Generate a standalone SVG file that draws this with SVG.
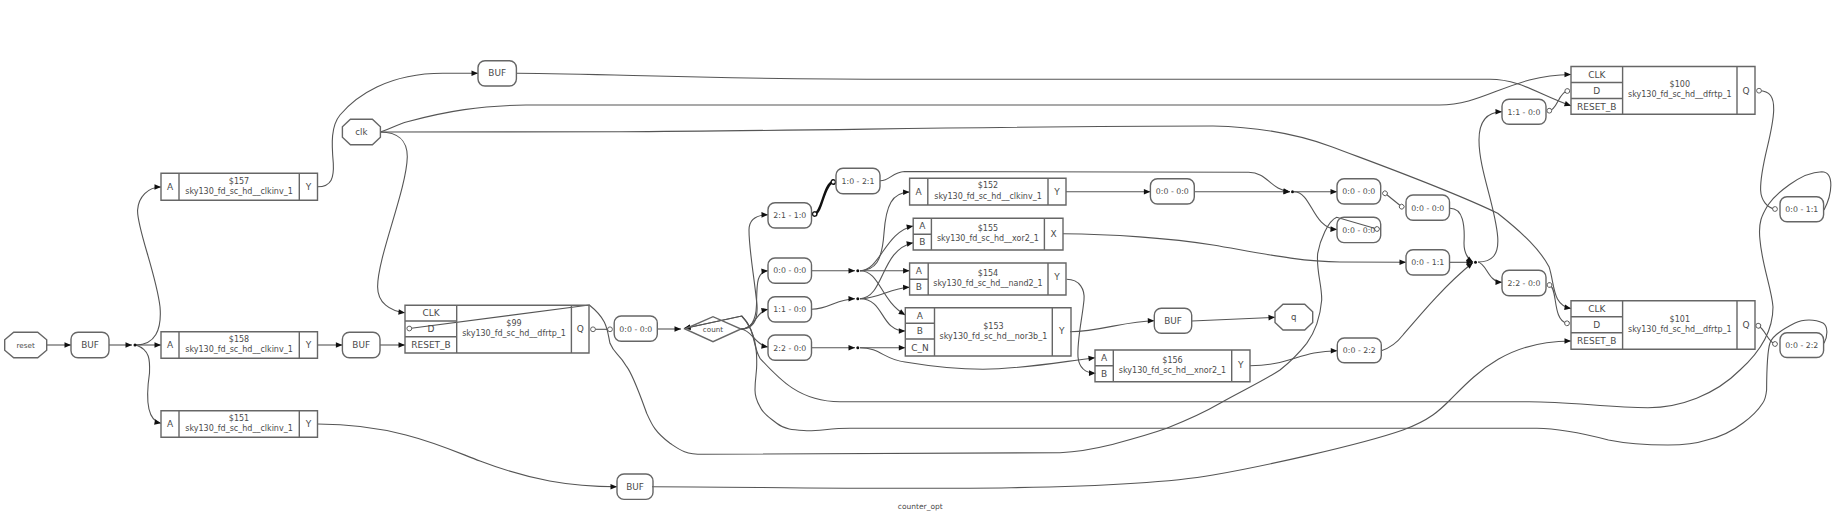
<svg xmlns="http://www.w3.org/2000/svg" width="1833" height="531" viewBox="0 0 1833 531">
<style>
text{font-family:"DejaVu Sans",sans-serif;text-anchor:middle;fill:#4a4a4a}
.n{font-size:8px}.p{font-size:9px}.b{font-size:8.9px}.w{font-size:7.8px}.o{font-size:7.2px}.l{font-size:8.6px}.c{font-size:7.5px}
.s{fill:none;stroke:#666;stroke-width:1.4}
.e{fill:none;stroke:#555;stroke-width:1.1}
.a{marker-end:url(#arrow)}
.d{marker-start:url(#odot);marker-end:url(#odot)}
.t{fill:none;stroke:#111;stroke-width:2.4;marker-start:url(#odotb);marker-end:url(#odotb)}
</style>
<defs>
<marker id="arrow" markerUnits="userSpaceOnUse" markerWidth="8" markerHeight="7" refX="7" refY="3.5" orient="auto"><path d="M.5,.7L7,3.5L.5,6.3Z" fill="#111"/></marker>
<marker id="odot" markerUnits="userSpaceOnUse" markerWidth="7" markerHeight="7" refX="3.5" refY="3.5" orient="auto"><circle cx="3.5" cy="3.5" r="2.4" fill="#fff" stroke="#555" stroke-width=".9"/></marker>
<marker id="odotb" markerUnits="userSpaceOnUse" markerWidth="7" markerHeight="7" refX="3.5" refY="3.5" orient="auto"><circle cx="3.5" cy="3.5" r="2.2" fill="#fff" stroke="#111" stroke-width="1.4"/></marker>
</defs>
<rect width="1833" height="531" fill="#fff"/>
<g id="connectors">
<path class="e a" d="M46.7,345H71"/>
<path class="e a" d="M109,345H132"/>
<path class="e a" d="M136,345C155,345 162,330 160,306.7C156,273 136.5,227 137.6,210C138.4,197 148,187 161,187"/>
<path class="e a" d="M136,345H161"/>
<path class="e a" d="M136,345C150,350 150,360 149.5,373C147,390 144,420 161,423.3"/>
<path class="e a" d="M317.5,186.7C332,186.7 334,177 333.3,163.3C331.5,143 331,126 340,115C356,96 388,73.3 442.9,73.3H478"/>
<path class="e a" d="M516.4,73.3C620,74 700,79.3 900,79.3H1490C1520,79.3 1540,95 1571,105.7"/>
<path class="e a" d="M380.4,132C392,128 398,124 407.3,121.7C447,111 480,105.7 526,105H1438C1485,105.7 1510,75 1571,74.5"/>
<path class="e a" d="M380.4,132L620,131.7C800,131 1000,126 1213,126C1260,127 1300,135 1331.6,146.7C1380,165 1450,190 1497.7,213.3C1525,235 1540,250 1549,266.7C1555,285 1552,305 1571,308.5"/>
<path class="e a" d="M380.4,132C397,132 407.3,140 407.3,156.7C406.5,190 377.6,257 377.6,286.7C377.6,303 390,311 405,312.7"/>
<path class="e a" d="M317.5,345H342.4"/>
<path class="e a" d="M380,345H405"/>
<path class="e a" d="M317.5,424C400,424 450,450 480,461C530,480 570,486.7 617,486.7"/>
<path class="e a" d="M652,486.7C800,486.7 1100,495 1213,475C1260,467 1360,445 1403,430C1430,420 1440,410 1450,400C1475,375 1505,341 1571,341"/>
<path class="e d" d="M593,329.3H610"/>
<path class="e d" d="M1377,229L1336.7,217.3C1328,221 1320,240 1317.7,253.3C1316,270 1322,285 1321.7,300C1320,320 1315,332 1306.7,343.3C1295,358 1285,366 1280,370C1265,380 1240,392 1220,403.3C1200,415 1185,421 1166.7,428.3C1145,436 1125,441 1110,445C1090,450 1075,452 1060,452.7L703.3,454.3C685,454.3 680,450 670,443.3C655,432 652,425 646.7,413.3C640,395 633,375 626.7,366.7C618,352 615,355 610,343.3C607,330 608,320 589.3,305L409.3,328.5"/>
<path class="e a" d="M657.3,329H681"/>
<path class="e a" d="M1824,210C1832,195 1835,172 1821.7,171.7C1800,172 1775,195 1768,205C1762,215 1758,222 1760,240C1762,265 1772,290 1773,307C1773,330 1760,352 1740,370C1715,395 1680,407.7 1648,407.7C1610,407.7 1570,401.7 1529,401.7H840C800,401.7 780,380 760,358.3C752,345 756,330 741.7,316L684,328.5"/>
<path class="e a" d="M1824,343.3C1828,336 1828,326 1823,323C1815,319 1803,319 1795,323C1785,328 1772,336 1770,343C1767,352 1766.7,370 1766.6,390C1766,396 1765,400 1762.6,403.3C1757,412 1750,418 1743,423C1730,433 1720,437 1707,440C1695,444 1682,445 1668,445C1650,445 1628,444 1608.4,440C1585,434 1560,428.3 1537,428.3H850C830,428.3 820,431 806.7,430.7C795,430 785,430 776.7,423.3C770,418 763,414 760,406.7C756,400 755,396 755,390C755,378 757,372 756.7,363.3C757,350 755,330 741.7,316L684,328.5"/>
<path class="e a" d="M741,329C752,330 755,345 768,347"/>
<path class="e a" d="M741,329C755,329 755,312 768,309.3"/>
<path class="e a" d="M741,329C752,329 756,318 756.5,305C757,285 756,272 768,270.7"/>
<path class="e a" d="M741,329C752,329 758,322 757,305C754,275 749,250 749,230C749,220 755,215 768,214.7"/>
<path class="t" d="M814.7,214C822,213 824,183 833.3,182"/>
<path class="e a" d="M880,180.7C890,181 892,172 904.5,171.5L1248.6,172.3C1268,172.3 1270,190 1290,191.7"/>
<path class="e a" d="M1194.3,191.7H1290"/>
<path class="e a" d="M1294,191.7H1337"/>
<path class="e a" d="M1294,191.7C1312,192 1312,228 1337,229.5"/>
<path class="e d" d="M1385,193.3L1401.7,206.7"/>
<path class="e a" d="M1066,191.7H1150.4"/>
<path class="e a" d="M1063,233.7C1110,234 1170,238 1213,245C1260,253 1300,261.7 1340,262L1406,262.3"/>
<path class="e a" d="M1066.6,279.3C1080,279.3 1085,290 1084,300C1082,320 1077,340 1078,357C1079,367 1085,373 1095.5,373.3"/>
<path class="e a" d="M811.5,270.7H855"/>
<path class="e a" d="M811.5,309.3C830,309 836,299 855,298.7"/>
<path class="e a" d="M811.5,347.7H855"/>
<path class="e a" d="M860,270.7H909.6"/>
<path class="e a" d="M860,270.7C875,270 882,262 884,233C886,205 892,192.5 909.6,192"/>
<path class="e a" d="M860,270.7C880,270.7 885,232 913.2,226"/>
<path class="e a" d="M860,270.7C880,271 880,300 905.3,315"/>
<path class="e a" d="M860,298.7C878,299 890,288 909.6,287.3"/>
<path class="e a" d="M860,298.7C885,297 880,250 913.2,242.7"/>
<path class="e a" d="M860,298.7C885,299 880,331 905.3,331"/>
<path class="e a" d="M860,347.7H905.3"/>
<path class="e a" d="M860,347.7C880,347.7 885,360 905,362C935,367 960,369.3 983,369.3C1020,369.3 1060,362 1095,357.7"/>
<path class="e a" d="M1070,331.7C1100,331.7 1125,321 1154.3,320.7"/>
<path class="e a" d="M1191.7,321L1275,317.3"/>
<path class="e a" d="M1250,365.7C1290,365.7 1300,351 1337.3,350.7"/>
<path class="e a" d="M1381.3,350.7C1390,348 1396,344 1403,335C1420,315 1445,285 1473,262.5"/>
<path class="e a" d="M1449.5,262.3H1473"/>
<path class="e a" d="M1450,208.3C1463,208.3 1465,225 1464,243.3C1464,252 1468,259 1473,262.3"/>
<path class="e a" d="M1478,262C1492,262 1499,255 1497.7,237C1495,205 1479,170 1479,140C1479,122 1486,112 1502,111.7"/>
<path class="e a" d="M1478,262C1487,264 1488,282 1502,282.3"/>
<path class="e d" d="M1549.3,110.7C1557,110 1559,92 1567.3,91"/>
<path class="e d" d="M1549.5,285C1558,288 1552,320 1567,323.3"/>
<path class="e d" d="M1759,90.7C1770,90.7 1774,97 1773.7,110C1773,135 1760,165 1760.6,190C1761,200 1767,208 1775,209"/>
<path class="e d" d="M1758.3,325.7C1765,329 1768,342 1775,344"/>
</g>
<g id="j0"><circle cx="135" cy="345" r="1.5" fill="#111"/></g>
<g id="j1"><circle cx="857.8" cy="270.7" r="1.5" fill="#111"/></g>
<g id="j2"><circle cx="857.8" cy="298.7" r="1.5" fill="#111"/></g>
<g id="j3"><circle cx="857.8" cy="347.7" r="1.5" fill="#111"/></g>
<g id="j4"><circle cx="1292.5" cy="191.7" r="1.5" fill="#111"/></g>
<g id="j5"><circle cx="1475.5" cy="262.3" r="1.5" fill="#111"/></g>
<g id="reset"><polygon class="s" points="13.7,332.3 37.7,332.3 46.7,339.8 46.7,350.2 37.7,357.7 13.7,357.7 4.7,350.2 4.7,339.8"/><text class="o" x="25.7" y="347.5">reset</text></g>
<g id="clk"><polygon class="s" points="350.4,119.3 372.4,119.3 380.4,126.8 380.4,137.2 372.4,144.7 350.4,144.7 342.4,137.2 342.4,126.8"/><text class="l" x="361.4" y="134.8">clk</text></g>
<g id="q"><polygon class="s" points="1283,304.3 1304.7,304.3 1312.7,311.8 1312.7,322.5 1304.7,330 1283,330 1275,322.5 1275,311.8"/><text class="l" x="1293.8" y="319.6">q</text></g>
<g id="count"><polygon class="s" points="685,329 713,316.7 741,329 713,341.7"/><text class="o" x="713" y="331.6">count</text></g>
<g id="buf0"><rect class="s" x="71" y="332.3" width="38" height="25.4" rx="7"/><text class="b" x="90" y="348">BUF</text></g>
<g id="buf1"><rect class="s" x="342.4" y="332.3" width="37.6" height="25.4" rx="7"/><text class="b" x="361.2" y="348">BUF</text></g>
<g id="buf2"><rect class="s" x="478" y="60.7" width="38.4" height="25.3" rx="7"/><text class="b" x="497.2" y="76.4">BUF</text></g>
<g id="buf3"><rect class="s" x="617" y="474" width="36" height="25.4" rx="7"/><text class="b" x="635" y="489.8">BUF</text></g>
<g id="buf4"><rect class="s" x="1154.3" y="308.3" width="37.4" height="25" rx="7"/><text class="b" x="1173" y="323.8">BUF</text></g>
<g id="w0"><rect class="s" x="614.2" y="316" width="43.1" height="25.3" rx="7"/><text class="w" x="635.8" y="331.6">0:0 - 0:0</text></g>
<g id="w1"><rect class="s" x="768" y="202.7" width="43.5" height="25.3" rx="7"/><text class="w" x="789.8" y="218.2">2:1 - 1:0</text></g>
<g id="w2"><rect class="s" x="836" y="168.3" width="44" height="25.4" rx="7"/><text class="w" x="858" y="183.8">1:0 - 2:1</text></g>
<g id="w3"><rect class="s" x="768" y="258" width="43.5" height="25.3" rx="7"/><text class="w" x="789.8" y="273.4">0:0 - 0:0</text></g>
<g id="w4"><rect class="s" x="768" y="296.7" width="43.5" height="25.3" rx="7"/><text class="w" x="789.8" y="312.2">1:1 - 0:0</text></g>
<g id="w5"><rect class="s" x="768" y="335" width="43.5" height="25.3" rx="7"/><text class="w" x="789.8" y="350.5">2:2 - 0:0</text></g>
<g id="w6"><rect class="s" x="1150.4" y="178.7" width="43.9" height="25.3" rx="7"/><text class="w" x="1172.3" y="194.2">0:0 - 0:0</text></g>
<g id="w7"><rect class="s" x="1337" y="178.7" width="43.7" height="25.3" rx="7"/><text class="w" x="1358.8" y="194.2">0:0 - 0:0</text></g>
<g id="w8"><rect class="s" x="1406" y="195" width="43.5" height="25.3" rx="7"/><text class="w" x="1427.8" y="210.5">0:0 - 0:0</text></g>
<g id="w9"><rect class="s" x="1337" y="217.3" width="43.7" height="25.3" rx="7"/><text class="w" x="1358.8" y="232.8">0:0 - 0:0</text></g>
<g id="w10"><rect class="s" x="1406" y="249.7" width="43.5" height="25.3" rx="7"/><text class="w" x="1427.8" y="265.2">0:0 - 1:1</text></g>
<g id="w11"><rect class="s" x="1337.3" y="338" width="44" height="24.7" rx="7"/><text class="w" x="1359.3" y="353.2">0:0 - 2:2</text></g>
<g id="w12"><rect class="s" x="1502" y="99.3" width="44" height="25" rx="7"/><text class="w" x="1524" y="114.6">1:1 - 0:0</text></g>
<g id="w13"><rect class="s" x="1502" y="270.3" width="44" height="25.5" rx="7"/><text class="w" x="1524" y="285.8">2:2 - 0:0</text></g>
<g id="w14"><rect class="s" x="1780" y="196.8" width="43.6" height="25" rx="7"/><text class="w" x="1801.8" y="212">0:0 - 1:1</text></g>
<g id="w15"><rect class="s" x="1780" y="332.8" width="43.6" height="24.7" rx="7"/><text class="w" x="1801.8" y="348">0:0 - 2:2</text></g>
<g id="c157"><path class="s" d="M161,173.3H317.5V200.3H161ZM179,173.3V200.3M299.3,173.3V200.3"/><text class="p" x="170" y="190">A</text><text class="n" x="239" y="183.6">$157</text><text class="n" x="239" y="193.8">sky130_fd_sc_hd__clkinv_1</text><text class="p" x="308.4" y="190">Y</text></g>
<g id="c158"><path class="s" d="M161,331.7H317.5V358.3H161ZM179,331.7V358.3M299.3,331.7V358.3"/><text class="p" x="170" y="348.2">A</text><text class="n" x="239" y="341.8">$158</text><text class="n" x="239" y="352">sky130_fd_sc_hd__clkinv_1</text><text class="p" x="308.4" y="348.2">Y</text></g>
<g id="c151"><path class="s" d="M161,410.7H317.5V437.3H161ZM179,410.7V437.3M299.3,410.7V437.3"/><text class="p" x="170" y="427.2">A</text><text class="n" x="239" y="420.8">$151</text><text class="n" x="239" y="431">sky130_fd_sc_hd__clkinv_1</text><text class="p" x="308.4" y="427.2">Y</text></g>
<g id="c99"><path class="s" d="M405,305.3H589V353H405ZM456.7,305.3V353M571.4,305.3V353M405,321H456.7M405,336.7H456.7"/><text class="p" x="431" y="316.4">CLK</text><text class="p" x="431" y="332">D</text><text class="p" x="431" y="348">RESET_B</text><text class="n" x="514" y="325.7">$99</text><text class="n" x="514" y="336.2">sky130_fd_sc_hd__dfrtp_1</text><text class="p" x="580.2" y="332">Q</text></g>
<g id="c100"><path class="s" d="M1571,66.5H1755V114.3H1571ZM1622.6,66.5V114.3M1737,66.5V114.3M1571,82.5H1622.6M1571,98.5H1622.6"/><text class="p" x="1596.8" y="77.7">CLK</text><text class="p" x="1596.8" y="93.7">D</text><text class="p" x="1596.8" y="109.6">RESET_B</text><text class="n" x="1679.8" y="87.2">$100</text><text class="n" x="1679.8" y="97.4">sky130_fd_sc_hd__dfrtp_1</text><text class="p" x="1746" y="93.7">Q</text></g>
<g id="c101"><path class="s" d="M1571,300.7H1755V349.3H1571ZM1622.6,300.7V349.3M1737,300.7V349.3M1571,316.7H1622.6M1571,332.7H1622.6"/><text class="p" x="1596.8" y="311.9">CLK</text><text class="p" x="1596.8" y="327.9">D</text><text class="p" x="1596.8" y="344.2">RESET_B</text><text class="n" x="1679.8" y="321.8">$101</text><text class="n" x="1679.8" y="332">sky130_fd_sc_hd__dfrtp_1</text><text class="p" x="1746" y="328.2">Q</text></g>
<g id="c152"><path class="s" d="M909.6,178.3H1066V205H909.6ZM927.8,178.3V205M1048,178.3V205"/><text class="p" x="918.7" y="194.8">A</text><text class="n" x="988" y="188.4">$152</text><text class="n" x="988" y="198.6">sky130_fd_sc_hd__clkinv_1</text><text class="p" x="1057" y="194.8">Y</text></g>
<g id="c155"><path class="s" d="M913.2,218.3H1063V250H913.2ZM931.4,218.3V250M1044.4,218.3V250M913.2,234.3H931.4"/><text class="p" x="922.3" y="229.4">A</text><text class="p" x="922.3" y="245.3">B</text><text class="n" x="987.9" y="231">$155</text><text class="n" x="987.9" y="241.2">sky130_fd_sc_hd__xor2_1</text><text class="p" x="1053.7" y="237.4">X</text></g>
<g id="c154"><path class="s" d="M909.6,263H1066V295H909.6ZM928.2,263V295M1048,263V295M909.6,279.3H928.2"/><text class="p" x="918.9" y="274.3">A</text><text class="p" x="918.9" y="290.4">B</text><text class="n" x="988" y="275.8">$154</text><text class="n" x="988" y="286">sky130_fd_sc_hd__nand2_1</text><text class="p" x="1057" y="280.2">Y</text></g>
<g id="c153"><path class="s" d="M905.3,307.7H1071V356H905.3ZM934.5,307.7V356M1052.3,307.7V356M905.3,323.3H934.5M905.3,339H934.5"/><text class="p" x="919.9" y="318.7">A</text><text class="p" x="919.9" y="334.4">B</text><text class="p" x="919.9" y="350.7">C_N</text><text class="n" x="993.4" y="328.6">$153</text><text class="n" x="993.4" y="338.8">sky130_fd_sc_hd__nor3b_1</text><text class="p" x="1061.7" y="333.5">Y</text></g>
<g id="c156"><path class="s" d="M1095,350H1250V381.7H1095ZM1113.3,350V381.7M1231.7,350V381.7M1095,365.7H1113.3"/><text class="p" x="1104.2" y="361">A</text><text class="p" x="1104.2" y="376.8">B</text><text class="n" x="1172.5" y="362.6">$156</text><text class="n" x="1172.5" y="372.8">sky130_fd_sc_hd__xnor2_1</text><text class="p" x="1240.8" y="367.5">Y</text></g>
<text class="c" x="920.3" y="509">counter_opt</text>
</svg>
